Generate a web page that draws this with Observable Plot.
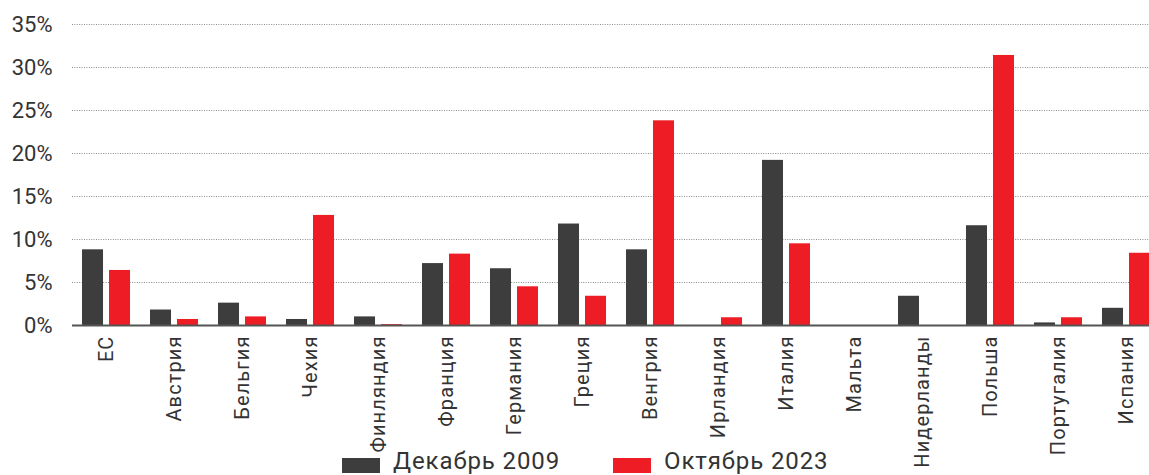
<!DOCTYPE html>
<html>
<head>
<meta charset="utf-8">
<script src="https://cdn.jsdelivr.net/npm/d3@7"></script>
<script src="https://cdn.jsdelivr.net/npm/@observablehq/plot@0.6"></script>
<style>
  html, body { margin: 0; padding: 0; background: #fff; overflow: hidden; }
  #wrap { position: relative; width: 1149px; height: 475px; font-family: Roboto, "Liberation Sans", sans-serif; }
  #legend { position: absolute; left: 0; top: 449px; width: 1149px; height: 26px; color: #333; font-size: 24px; line-height: 24px; letter-spacing: 0.9px; }
  #legend .item { position: absolute; top: 0; display: flex; align-items: flex-start; white-space: nowrap; }
  #legend .sw { width: 38px; height: 15px; margin-top: 9px; margin-right: 13px; }
</style>
</head>
<body>
<div id="wrap"><div id="chart"></div><div id="legend"></div></div>
<script>
const countries = ["ЕС", "Австрия", "Бельгия", "Чехия", "Финляндия", "Франция", "Германия", "Греция",
  "Венгрия", "Ирландия", "Италия", "Мальта", "Нидерланды", "Польша", "Португалия", "Испания"];
const dec2009 = [8.8, 1.8, 2.6, 0.7, 1.0, 7.2, 6.6, 11.8, 8.8, 0, 19.2, 0, 3.4, 11.6, 0.3, 2.0];
const oct2023 = [6.4, 0.7, 1.0, 12.8, 0.1, 8.3, 4.5, 3.4, 23.8, 0.9, 9.5, 0, 0, 31.4, 0.9, 8.4];
const seriesNames = ["Декабрь 2009", "Октябрь 2023"];
const seriesColors = ["#3d3d3d", "#ee1c25"];
const yTicks = [0, 5, 10, 15, 20, 25, 30, 35];

const rows2009 = countries.map((c, i) => ({country: c, value: dec2009[i]}));
const rows2023 = countries.map((c, i) => ({country: c, value: oct2023[i]}));

const chart = Plot.plot({
  width: 1149,
  height: 475,
  marginLeft: 72,
  marginRight: 0,
  marginTop: 24,
  marginBottom: 150,
  style: {fontFamily: "Roboto, 'Liberation Sans', sans-serif", color: "#333", background: "#fff"},
  x: {domain: countries, range: [72, 1160], paddingInner: 0.691, paddingOuter: 0.3456, round: false, label: null},
  y: {domain: [0, 35], label: null},
  marks: [
    Plot.gridY(yTicks.slice(1), {stroke: "#8a8a8a", strokeOpacity: 1, strokeDasharray: "1,1.4"}),
    Plot.barY(rows2009, {x: "country", y: "value", fill: seriesColors[0], dx: -13.5}),
    Plot.barY(rows2023, {x: "country", y: "value", fill: seriesColors[1], dx: 13.5}),
    Plot.ruleY([0], {stroke: "#555", strokeWidth: 2}),
    Plot.axisY({ticks: yTicks, tickFormat: d => d + "%", tickSize: 0, tickPadding: 20, fontSize: 22, fill: "#333"}),
    Plot.axisX({tickRotate: -90, tickSize: 0, tickPadding: 10, fontSize: 20, fill: "#333"})
  ]
});
d3.select(chart).selectAll('[aria-label="x-axis tick label"] text').attr("letter-spacing", "1.1px");
document.getElementById("chart").append(chart);

// legend entries sit under the plot, overlapping the label band
const legendLeft = [342, 613];
const legend = d3.select("#legend");
seriesNames.forEach((name, i) => {
  const item = legend.append("div").attr("class", "item").style("left", legendLeft[i] + "px");
  item.append("div").attr("class", "sw").style("background", seriesColors[i]);
  item.append("span").text(name);
});
</script>
</body>
</html>
